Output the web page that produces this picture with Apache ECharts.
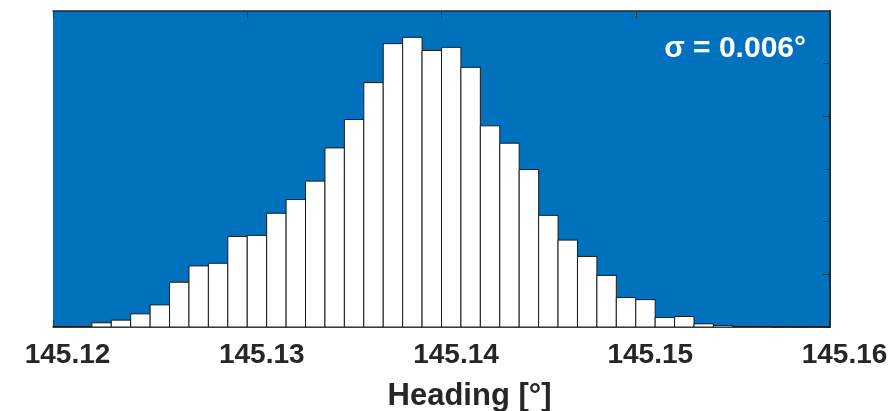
<!DOCTYPE html>
<html>
<head>
<meta charset="utf-8">
<script src="https://cdn.jsdelivr.net/npm/echarts@6/dist/echarts.min.js"></script>
<style>html,body{margin:0;padding:0;background:#fff}#c{width:894px;height:411px}</style>
</head>
<body>
<div id="c"></div>
<script>
// Histogram data: bins of 0.001 starting at 145.12
const binStart = 145.12;
const binWidth = 0.001;
const counts = [1, 1, 8, 13, 25, 42, 85, 116, 121, 172, 174, 216, 242, 277, 340, 394, 464, 538, 550, 525,
                531, 493, 382, 349, 299, 212, 165, 134, 98, 56, 52, 18, 20, 6, 3, 1, 1, 0, 0, 0];
const xTicks = [145.12, 145.13, 145.14, 145.15, 145.16];
const annotation = 'σ = 0.006°';
const xName = 'Heading [°]';

const data = counts.map((c, i) => [binStart + i * binWidth, binStart + (i + 1) * binWidth, c]);

const chart = echarts.init(document.getElementById('c'), null, {renderer: 'canvas'});
const axisColor = '#262626';
const font = '"Liberation Sans", Arial, sans-serif';
chart.setOption({
  animation: false,
  grid: {left: 53, right: 64, top: 11, bottom: 84, show: true, backgroundColor: '#0072BD', borderWidth: 0,
         containLabel: false, outerBoundsMode: 'none'},
  xAxis: [{
    type: 'value', min: xTicks[0], max: xTicks[xTicks.length - 1], interval: 0.01,
    position: 'bottom',
    axisLine: {show: true, onZero: false, lineStyle: {color: axisColor, width: 1.5}},
    axisTick: {show: true, inside: true, length: 7, lineStyle: {color: '#333', width: 1}},
    splitLine: {show: false},
    axisLabel: {
      margin: 14, color: axisColor, fontSize: 28, fontWeight: 'bold', fontFamily: font,
      padding: [0, 0, 0, 29],
      formatter: v => v.toFixed(2)
    },
    name: xName, nameLocation: 'middle', nameGap: 54,
    nameTextStyle: {color: axisColor, fontSize: 31, fontWeight: 'bold', fontFamily: font, padding: [0, 0, 0, 56]}
  }, {
    type: 'value', min: xTicks[0], max: xTicks[xTicks.length - 1], interval: 0.01,
    position: 'top',
    axisLine: {show: true, onZero: false, lineStyle: {color: axisColor, width: 1.5}},
    axisTick: {show: true, inside: true, length: 7, lineStyle: {color: '#333', width: 1}},
    axisLabel: {show: false}, splitLine: {show: false}
  }],
  yAxis: {
    type: 'value', min: 0, max: 600, interval: 100, position: 'right',
    axisLine: {show: true, lineStyle: {color: axisColor, width: 2}},
    axisTick: {show: true, inside: true, length: 7, lineStyle: {color: '#333', width: 1}},
    axisLabel: {show: false}, splitLine: {show: false}
  },
  series: [{
    type: 'custom',
    xAxisIndex: 0,
    data: data,
    encode: {x: [0, 1], y: 2},
    renderItem: (params, api) => {
      const p0 = api.coord([api.value(0), 0]);
      const p1 = api.coord([api.value(1), api.value(2)]);
      return {
        type: 'rect',
        shape: {x: p0[0], y: p1[1], width: p1[0] - p0[0], height: p0[1] - p1[1]},
        style: {fill: '#ffffff', stroke: '#1a1a1a', lineWidth: 1}
      };
    },
    z: 2
  }],
  graphic: [{
    type: 'text', right: 894 - 806, top: 34, z: 10,
    style: {text: annotation, fill: '#ffffff', font: 'bold 30px ' + font}
  }]
});
</script>
</body>
</html>
